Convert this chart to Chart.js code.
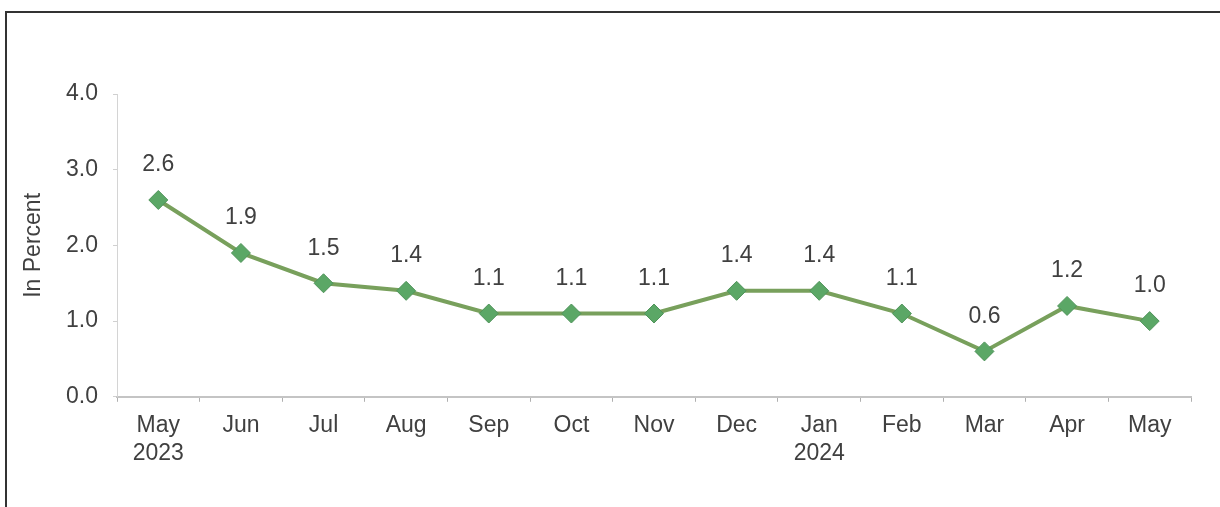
<!DOCTYPE html>
<html>
<head>
<meta charset="utf-8">
<script src="https://cdn.jsdelivr.net/npm/chart.js@4.4.1/dist/chart.umd.min.js"></script>
<style>
    body { margin: 0; background: #fff; }
    #wrap { position: relative; width: 1220px; height: 507px; overflow: hidden; }
    #frame { position: absolute; left: 5px; top: 11px; width: 1240px; height: 520px; border: 2px solid #333; box-sizing: border-box; }
    #inflationChart { position: absolute; left: 0; top: 0; }
</style>
</head>
<body>
<div id="wrap">
    <div id="frame"></div>
    <canvas id="inflationChart" width="1220" height="507"></canvas>
</div>
<script>
const months = [
    ['May', '2023'], 'Jun', 'Jul', 'Aug', 'Sep', 'Oct', 'Nov',
    'Dec', ['Jan', '2024'], 'Feb', 'Mar', 'Apr', 'May'
];
const inflationRates = [2.6, 1.9, 1.5, 1.4, 1.1, 1.1, 1.1, 1.4, 1.4, 1.1, 0.6, 1.2, 1.0];
const yTicks = [0, 1, 2, 3, 4];

const fontFamily = '"Liberation Sans", Arial, sans-serif';
const textColor = '#404040';
const fontSize = 23;

// draws the value above each point
const pointLabels = {
    id: 'pointLabels',
    afterDatasetsDraw(chart) {
        const ctx = chart.ctx;
        const meta = chart.getDatasetMeta(0);
        ctx.save();
        ctx.font = `${fontSize}px ${fontFamily}`;
        ctx.fillStyle = textColor;
        ctx.textAlign = 'center';
        ctx.textBaseline = 'middle';
        meta.data.forEach((pt, i) => {
            ctx.fillText(inflationRates[i].toFixed(1), pt.x, pt.y - 35);
        });
        ctx.restore();
    }
};

const chartCtx = document.getElementById('inflationChart').getContext('2d');
new Chart(chartCtx, {
    type: 'line',
    data: {
        labels: months,
        datasets: [{
            data: inflationRates,
            borderColor: '#78a05c',
            borderWidth: 4,
            tension: 0,
            pointStyle: 'rectRot',
            pointRadius: 9.5,
            pointBackgroundColor: '#5ba766',
            pointBorderColor: '#4f935a',
            pointBorderWidth: 1
        }]
    },
    options: {
        responsive: false,
        animation: false,
        layout: { padding: { top: 94, right: 29, bottom: 30, left: 0 } },
        plugins: {
            legend: { display: false },
            tooltip: { enabled: false }
        },
        scales: {
            x: {
                offset: true,
                border: { display: true, color: '#c4c4c4', width: 2 },
                grid: { display: true, offset: true, drawOnChartArea: false, drawTicks: true, tickLength: 5, color: '#b0b0b0' },
                ticks: {
                    color: textColor,
                    font: { family: fontFamily, size: fontSize },
                    padding: 10,
                    maxRotation: 0,
                    autoSkip: false
                }
            },
            y: {
                min: 0,
                max: 4,
                afterFit(scale) { scale.width = 117; },
                afterBuildTicks(scale) { scale.ticks = yTicks.map(v => ({ value: v })); },
                border: { display: true, color: '#d4d4d4', width: 1 },
                grid: { display: true, drawOnChartArea: false, drawTicks: true, tickLength: 4, color: '#d0d0d0' },
                title: {
                    display: true,
                    text: 'In Percent',
                    color: textColor,
                    font: { family: fontFamily, size: fontSize },
                    padding: { top: 20, bottom: 0 }
                },
                ticks: {
                    color: textColor,
                    font: { family: fontFamily, size: fontSize },
                    padding: 15,
                    callback: v => v.toFixed(1)
                }
            }
        }
    },
    plugins: [pointLabels]
});
</script>
</body>
</html>
